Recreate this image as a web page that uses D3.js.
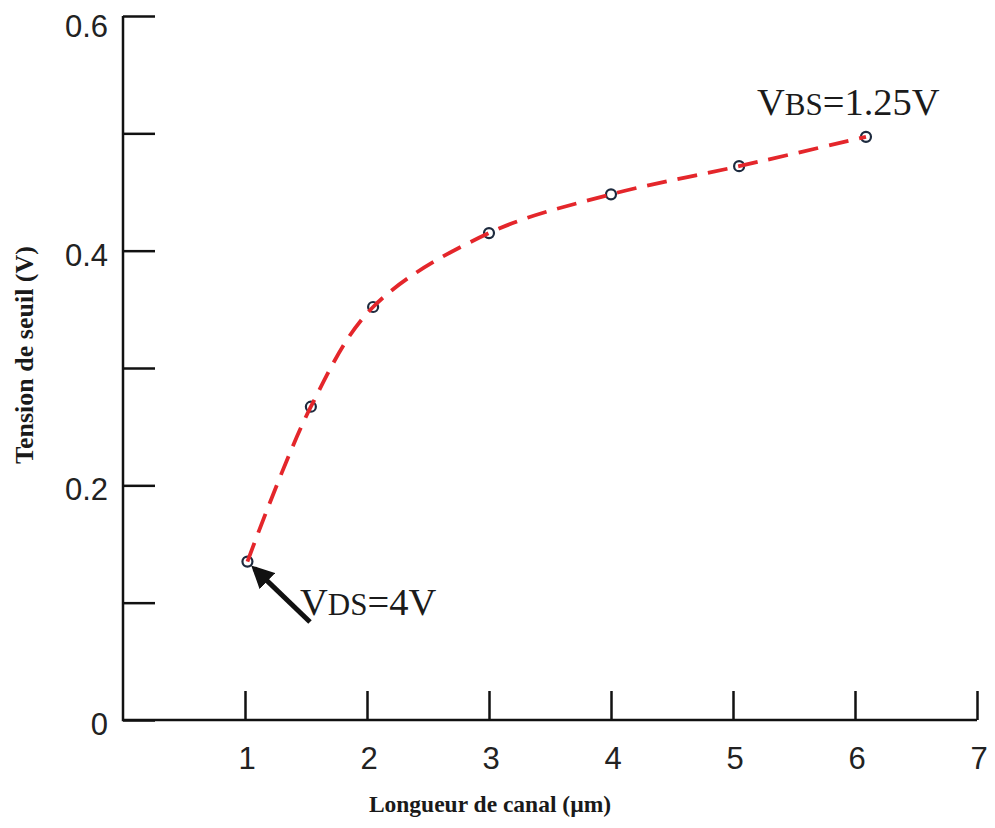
<!DOCTYPE html>
<html>
<head>
<meta charset="utf-8">
<script src="https://cdn.jsdelivr.net/npm/d3@7"></script>
<style>
  body { margin: 0; background: #fff; }
</style>
</head>
<body>
<svg id="chart" width="995" height="828"></svg>
<script>
// channel length (um) and threshold voltage (V)
const longueur = [1.02, 1.54, 2.05, 3.0, 4.0, 5.05, 6.09]
const tension = [0.135, 0.267, 0.352, 0.415, 0.448, 0.472, 0.497]
const xTicks = [1, 2, 3, 4, 5, 6, 7]
const yTicks = [0, 0.1, 0.2, 0.3, 0.4, 0.5, 0.6]
const yLabels = [0, 0.2, 0.4, 0.6]

const svg = d3.select('#chart')
const lineColor = '#e4262b'
const markColor = '#1d2a3e'
const tickFont = '"Liberation Sans", Arial, sans-serif'
const serif = '"Liberation Serif", "Times New Roman", serif'

const x = d3.scaleLinear().domain([0, 7]).range([123, 977])
const y = d3.scaleLinear().domain([0, 0.6]).range([720, 16])

// axes: ticks point inward, like the original plot
const xAxis = d3.axisTop(x).tickValues(xTicks).tickSize(29).tickFormat('')
svg.append('g')
	.attr('transform', `translate(0, ${y(0)})`)
	.call(xAxis)

const yAxis = d3.axisRight(y).tickValues(yTicks).tickSize(32).tickFormat('')
svg.append('g')
	.attr('transform', `translate(${x(0)}, 0)`)
	.call(yAxis)

svg.selectAll('.tick line')
	.attr('stroke', '#111')
	.attr('stroke-width', 2.5)

// domain drawn once as an L shape
svg.selectAll('.domain').remove()
svg.append('path')
	.attr('d', `M${x(0)},${y(0.6)}V${y(0)}H${x(7)}`)
	.attr('fill', 'none')
	.attr('stroke', '#111')
	.attr('stroke-width', 2.5)

// tick labels
svg.selectAll('text.xt')
	.data(xTicks)
	.enter()
	.append('text')
	.attr('class', 'xt')
	.attr('x', d => x(d) + 2)
	.attr('y', 769)
	.attr('text-anchor', 'middle')
	.style('font-family', tickFont)
	.style('font-size', '31px')
	.attr('fill', '#222')
	.text(d => d)

svg.selectAll('text.yt')
	.data(yLabels)
	.enter()
	.append('text')
	.attr('class', 'yt')
	.attr('x', 108)
	.attr('y', d => y(d) + (d === 0.6 ? 10 : 4))
	.attr('dy', '0.35em')
	.attr('text-anchor', 'end')
	.style('font-family', tickFont)
	.style('font-size', '31px')
	.attr('fill', '#222')
	.text(d => d)

// axis titles
svg.append('text')
	.attr('x', 490)
	.attr('y', 812)
	.attr('text-anchor', 'middle')
	.style('font-family', serif)
	.style('font-weight', 'bold')
	.style('font-size', '23.5px')
	.attr('fill', '#1a1a1a')
	.text('Longueur de canal (µm)')

svg.append('text')
	.attr('transform', 'translate(33, 355) rotate(-90)')
	.attr('text-anchor', 'middle')
	.style('font-family', serif)
	.style('font-weight', 'bold')
	.style('font-size', '26px')
	.attr('fill', '#1a1a1a')
	.text('Tension de seuil (V)')

// markers
const pts = longueur.map((d, i) => [d, tension[i]])
svg.selectAll('circle.pt')
	.data(pts)
	.enter()
	.append('circle')
	.attr('class', 'pt')
	.attr('cx', d => x(d[0]))
	.attr('cy', d => y(d[1]))
	.attr('r', 5)
	.attr('fill', '#fff')
	.attr('stroke', markColor)
	.attr('stroke-width', 2.2)

// dashed red curve
const line = d3.line()
	.x(d => x(d[0]))
	.y(d => y(d[1]))
	.curve(d3.curveCatmullRom.alpha(0.5))

svg.append('path')
	.datum(pts)
	.attr('d', line)
	.attr('fill', 'none')
	.attr('stroke', lineColor)
	.attr('stroke-width', 3.8)
	.attr('stroke-dasharray', '20,11')

// arrow pointing at the first point
svg.append('defs').append('marker')
	.attr('id', 'head')
	.attr('viewBox', '0 0 10 10')
	.attr('refX', 8)
	.attr('refY', 5)
	.attr('markerWidth', 4.5)
	.attr('markerHeight', 4.5)
	.attr('orient', 'auto')
	.append('path')
	.attr('d', 'M0,0L10,5L0,10Z')
	.attr('fill', '#111')

svg.append('line')
	.attr('x1', 310).attr('y1', 622)
	.attr('x2', x(longueur[0]) + 7).attr('y2', y(tension[0]) + 7)
	.attr('stroke', '#111')
	.attr('stroke-width', 5)
	.attr('marker-end', 'url(#head)')

// annotations
function annot(px, py, sub, rest) {
	const t = svg.append('text')
		.attr('x', px)
		.attr('y', py)
		.style('font-family', serif)
		.style('font-size', '38.5px')
		.attr('fill', '#1b1b1b')
	t.append('tspan').text('V')
	t.append('tspan').style('font-size', '31px').text(sub)
	t.append('tspan').text(rest)
}
annot(757, 115, 'BS', '=1.25V')
annot(300, 615, 'DS', '=4V')
</script>
</body>
</html>
